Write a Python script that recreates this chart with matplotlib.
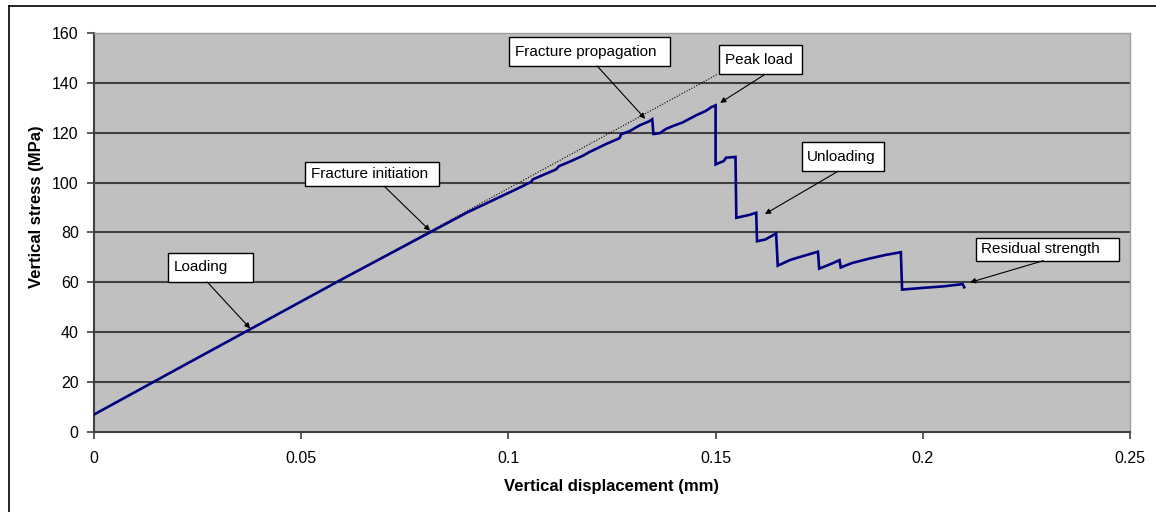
import matplotlib
matplotlib.use("Agg")
import matplotlib.pyplot as plt
from matplotlib.lines import Line2D
from matplotlib.patches import Rectangle

plt.rcParams["font.family"] = ["Liberation Sans", "DejaVu Sans"]

# Measured stress-displacement record
displacement_mm = [
    0.000, 0.020, 0.040, 0.060, 0.081, 0.090, 0.1027, 0.1055, 0.1059, 0.1115,
    0.1122, 0.1148, 0.1180, 0.1196, 0.1236, 0.1268, 0.1272, 0.1292, 0.1317, 0.1340,
    0.1347, 0.1350, 0.1365, 0.1380, 0.1397, 0.1420, 0.1453, 0.1477, 0.1490, 0.1500,
    0.1500, 0.1510, 0.1520, 0.1525, 0.1548, 0.1550, 0.1580, 0.1598, 0.1600, 0.1620,
    0.1646, 0.1650, 0.1680, 0.1720, 0.1747, 0.1750, 0.1780, 0.1799, 0.1802, 0.1830,
    0.1870, 0.1910, 0.1947, 0.1950, 0.2000, 0.2050, 0.2096, 0.2100,
]
stress_mpa = [
    7.0, 25.2, 43.3, 61.4, 80.0, 88.0, 98.0, 100.3, 101.3, 105.3,
    106.6, 108.4, 110.8, 112.3, 115.5, 117.8, 119.4, 120.6, 123.0, 124.6,
    125.4, 119.5, 119.8, 121.5, 122.7, 124.1, 127.0, 128.8, 130.3, 131.0,
    107.3, 108.0, 108.7, 110.0, 110.3, 85.9, 87.0, 87.9, 76.5, 77.2,
    79.6, 66.7, 69.0, 71.0, 72.3, 65.5, 67.5, 68.9, 66.0, 67.8,
    69.5, 71.0, 72.1, 57.1, 57.8, 58.4, 59.3, 58.0,
]

# Linear elastic trend line
trend_x = [0.0, 0.1505]
trend_y = [7.0, 143.5]

x_ticks = [0, 0.05, 0.1, 0.15, 0.2, 0.25]
x_tick_labels = ["0", "0.05", "0.1", "0.15", "0.2", "0.25"]
y_ticks = [0, 20, 40, 60, 80, 100, 120, 140, 160]

W, H = 1156, 512
fig = plt.figure(figsize=(W / 100, H / 100), dpi=100)
fig.patch.set_facecolor("white")

# outer chart frame
fig.add_artist(Line2D([8.5 / W, 8.5 / W], [1 - 6 / H, 0], transform=fig.transFigure,
                      color="black", lw=1.2))
fig.add_artist(Line2D([8.5 / W, 1], [1 - 6 / H, 1 - 6 / H], transform=fig.transFigure,
                      color="black", lw=1.2))

ax = fig.add_axes([94 / W, 1 - 432 / H, (1130 - 94) / W, (432 - 33) / H])
ax.set_facecolor("#c0c0c0")
ax.set_xlim(0, 0.25)
ax.set_ylim(0, 160)

for yv in y_ticks[1:-1]:
    ax.axhline(yv, color="#404040", lw=1.5, zorder=1)

ax.plot(trend_x, trend_y, color="black", lw=0.8, ls=(0, (1, 1.5)), zorder=2)
ax.plot(displacement_mm, stress_mpa, color="#000080", lw=1.9, zorder=3,
        solid_joinstyle="miter")

ax.set_xticks(x_ticks)
ax.set_xticklabels(x_tick_labels)
ax.set_yticks(y_ticks)
ax.tick_params(axis="both", direction="out", length=5, width=1.2, color="#404040",
               labelsize=11.5)
ax.tick_params(axis="x", pad=9)
ax.tick_params(axis="y", pad=6)

for side in ("left", "bottom"):
    ax.spines[side].set_color("#404040")
    ax.spines[side].set_linewidth(1.5)
for side in ("top", "right"):
    ax.spines[side].set_color("#a0a0a0")
    ax.spines[side].set_linewidth(1.0)

fig.text(611 / W, 1 - 487 / H, "Vertical displacement (mm)", ha="center", va="center",
         fontsize=12, fontweight="bold")
fig.text(37 / W, 1 - 207 / H, "Vertical stress (MPa)", ha="center", va="center",
         rotation=90, fontsize=12, fontweight="bold")

# Callouts: (text, box x0, x1, y0, y1, arrow start, arrow tip)
callouts = [
    ("Loading", 0.01786, 0.0384, 60.2, 71.9, (0.0273, 60.2), (0.0377, 41.5)),
    ("Fracture initiation", 0.0510, 0.0833, 98.6, 108.2, (0.0700, 98.6), (0.0811, 80.7)),
    ("Fracture propagation", 0.1002, 0.1390, 146.8, 158.2, (0.1214, 146.8), (0.1330, 125.6)),
    ("Peak load", 0.1509, 0.1708, 143.4, 155.1, (0.1619, 143.4), (0.1511, 132.0)),
    ("Unloading", 0.1708, 0.1907, 104.6, 116.3, (0.1796, 104.6), (0.1619, 87.4)),
    ("Residual strength", 0.2128, 0.2474, 68.7, 77.8, (0.2291, 68.7), (0.2114, 60.0)),
]
for label, x0, x1, y0, y1, start, tip in callouts:
    ax.add_patch(Rectangle((x0, y0), x1 - x0, y1 - y0, facecolor="white",
                           edgecolor="black", lw=1.0, zorder=5))
    ax.text(x0 + 0.0013, (y0 + y1) / 2, label, ha="left", va="center",
            fontsize=11, zorder=6)
    ax.annotate("", xy=tip, xytext=start,
                arrowprops=dict(arrowstyle="-|>", color="black", lw=0.8,
                                mutation_scale=8, shrinkA=0, shrinkB=0),
                zorder=6)

fig.savefig("out.png", dpi=100)
